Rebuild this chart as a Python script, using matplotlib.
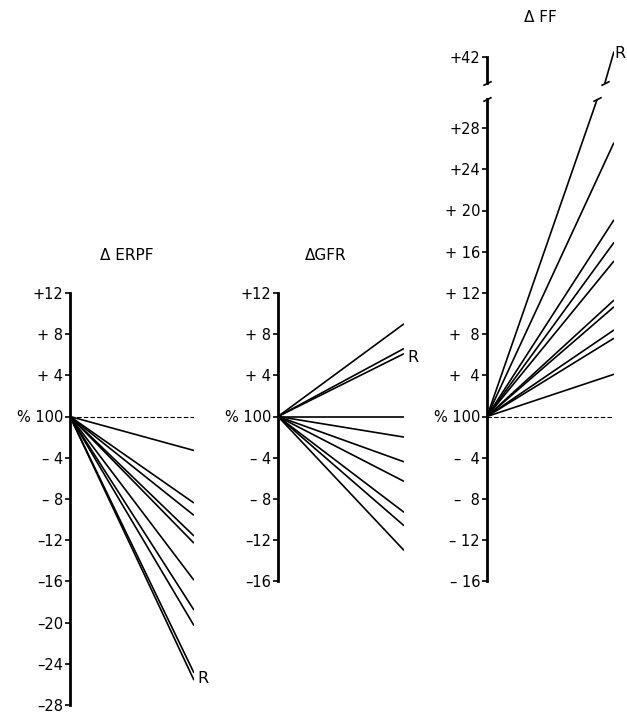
import matplotlib

matplotlib.use("Agg")

import matplotlib.pyplot as plt

# values (% change vs. 100 %) read at the right end of each line
erpf_values = [-3.3, -8.4, -9.6, -11.6, -12.3, -15.9, -18.8, -20.3, -24.9, -25.6]
gfr_values = [9.0, 6.6, 6.1, 0.0, -2.0, -4.4, -6.3, -9.3, -10.6, -13.0]
ff_values = [26.6, 19.1, 16.9, 15.1, 11.3, 10.65, 8.4, 7.6, 4.1]
ff_r_below_break = 35.5
ff_r_above_break = 42.5
erpf_r = -25.6
gfr_r = 6.1

erpf_ticks = [12, 8, 4, 0, -4, -8, -12, -16, -20, -24, -28]
erpf_ticklabels = ["+12", "+ 8", "+ 4", "% 100", "– 4", "– 8", "–12", "–16", "–20", "–24", "–28"]
gfr_ticks = [12, 8, 4, 0, -4, -8, -12, -16]
gfr_ticklabels = ["+12", "+ 8", "+ 4", "% 100", "– 4", "– 8", "–12", "–16"]
ff_ticks = [28, 24, 20, 16, 12, 8, 4, 0, -4, -8, -12, -16]
ff_ticklabels = ["+28", "+24", "+ 20", "+ 16", "+ 12", "+  8", "+  4", "% 100",
                 "–  4", "–  8", "– 12", "– 16"]
ff_top_ticks = [42]
ff_top_ticklabels = ["+42"]

W, H = 627, 715
ZERO_PX = 416.5
PX_PER_UNIT = 10.3
FONT = 10.5

fig = plt.figure(figsize=(W / 100, H / 100), dpi=100)


def add_panel(x_px, width_px, ymin, ymax, zero_px=ZERO_PX):
    top_px = zero_px - ymax * PX_PER_UNIT
    bottom_px = zero_px - ymin * PX_PER_UNIT
    ax = fig.add_axes([x_px / W, 1 - bottom_px / H, width_px / W, (bottom_px - top_px) / H])
    ax.set_xlim(0, 1)
    ax.set_ylim(ymin, ymax)
    ax.patch.set_visible(False)
    for side in ["top", "right", "bottom"]:
        ax.spines[side].set_visible(False)
    ax.spines["left"].set_linewidth(2.0)
    ax.set_xticks([])
    ax.tick_params(axis="y", direction="out", length=3.5, width=1.2, pad=1.5, labelsize=FONT)
    return ax


def draw_lines(ax, values, lw=1.2):
    for v in values:
        ax.plot([0, 1], [0, v], color="black", lw=lw, solid_capstyle="butt")


def dashed_zero(ax):
    ax.plot([0, 1], [0, 0], color="black", lw=0.8, ls=(0, (4, 2)))


def break_mark(ax, x, y):
    ax.plot([x], [y], marker=[(-1, -0.5), (1, 0.5)], markersize=6, linestyle="none",
            color="black", mec="black", mew=1.2, clip_on=False)


# ERPF
ax1 = add_panel(70, 124, -28, 12)
ax1.set_yticks(erpf_ticks, erpf_ticklabels)
dashed_zero(ax1)
draw_lines(ax1, erpf_values)
ax1.annotate("R", xy=(1, erpf_r), xytext=(9, 2), textcoords="offset pixels",
             fontsize=FONT + 1, ha="center", va="center")
fig.text(127 / W, 1 - 255 / H, "Δ ERPF", fontsize=FONT + 0.5, ha="center", va="center")

# GFR
ax2 = add_panel(278, 126, -16, 12)
ax2.set_yticks(gfr_ticks, gfr_ticklabels)
draw_lines(ax2, gfr_values)
ax2.annotate("R", xy=(1, gfr_r), xytext=(9, -4), textcoords="offset pixels",
             fontsize=FONT + 1, ha="center", va="center")
fig.text(326 / W, 1 - 255 / H, "ΔGFR", fontsize=FONT + 0.5, ha="center", va="center")

# FF, lower part of the broken axis
ax3 = add_panel(487, 127, -16, 30.8)
ax3.set_yticks(ff_ticks, ff_ticklabels)
dashed_zero(ax3)
draw_lines(ax3, ff_values)
draw_lines(ax3, [ff_r_below_break])
break_mark(ax3, 0, 30.8)
break_mark(ax3, 30.8 / ff_r_below_break, 30.8)

# FF, upper part of the broken axis
upper_zero = 56.7 + 42 * PX_PER_UNIT
ax4 = add_panel(487, 127, 39.45, 43.4, zero_px=upper_zero)
ax4.spines["left"].set_bounds(39.45, 42)
ax4.set_yticks(ff_top_ticks, ff_top_ticklabels)
draw_lines(ax4, [ff_r_above_break])
break_mark(ax4, 0, 39.45)
break_mark(ax4, 39.45 / ff_r_above_break, 39.45)
ax4.annotate("R", xy=(1, ff_r_above_break), xytext=(6, -2), textcoords="offset pixels",
             fontsize=FONT + 1, ha="center", va="center")
fig.text(540 / W, 1 - 17 / H, "Δ FF", fontsize=FONT + 0.5, ha="center", va="center")

fig.savefig("out.png", dpi=100)
